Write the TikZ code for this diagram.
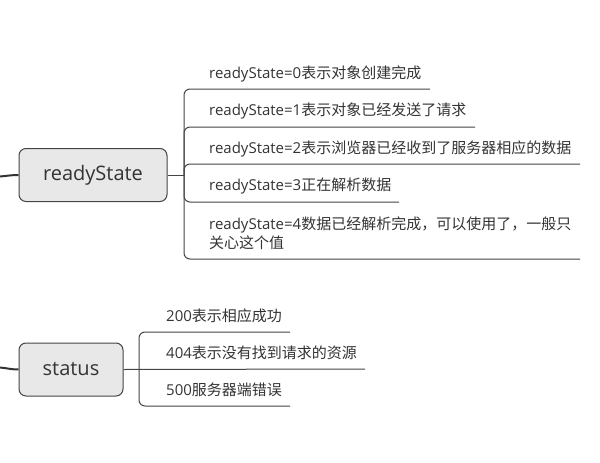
\documentclass[tikz,border=0pt]{standalone}
\usepackage{fontspec}
\setmainfont{Open Sans}
\newfontfamily\cjk{Noto Sans CJK SC}
\usetikzlibrary{positioning}
\definecolor{linegray}{HTML}{444444}
\definecolor{boxfill}{HTML}{E8E8E8}
\definecolor{txtgray}{HTML}{333333}
\tikzset{
  topic/.style={draw=linegray, fill=boxfill, rounded corners=7pt, line width=1pt,
    minimum height=53pt, inner sep=0pt, text=txtgray, font=\fontsize{20}{24}\selectfont},
  leaf/.style={anchor=west, inner sep=0pt, text=txtgray, font=\fontsize{15}{19}\selectfont},
  branch/.style={draw=linegray, line width=1pt, rounded corners=6pt},
  rootedge/.style={draw=txtgray, line width=2pt},
}
\begin{document}
\begin{tikzpicture}[x=1pt, y=-1pt]
  \useasboundingbox (0,0) rectangle (600,463);
  % readyState
  \node[topic, minimum width=148pt] (rs) at (93,175) {readyState};
  \coordinate (rsroot) at (0,176.5);
  \coordinate (rshub) at (184,175);
  \draw[rootedge] (rsroot) to[out=5, in=180] (rs.west);
  \draw[branch] (rs.east) -- (rshub);
  \node[leaf] (rs0) at (209,74) {readyState=0{\cjk 表示对象创建完成}};
  \node[leaf] (rs1) at (209,111) {readyState=1{\cjk 表示对象已经发送了请求}};
  \node[leaf] (rs2) at (209,149) {readyState=2{\cjk 表示浏览器已经收到了服务器相应的数据}};
  \node[leaf] (rs3) at (209,186) {readyState=3{\cjk 正在解析数据}};
  \node[leaf, align=left] (rs4) at (209,233.5)
    {readyState=4{\cjk 数据已经解析完成，可以使用了，一般只}\\{\cjk 关心这个值}};
  \coordinate (rs0end) at (430,89);
  \coordinate (rs1end) at (475,127);
  \coordinate (rs2end) at (580,164);
  \coordinate (rs3end) at (399,202);
  \coordinate (rs4end) at (580,259);
  \foreach \n in {0,...,4} {\draw[branch] (rshub) |- (rs\n end);}
  % status
  \node[topic, minimum width=104pt] (st) at (71,369.5) {status};
  \coordinate (stroot) at (0,367.5);
  \coordinate (sthub) at (139,369);
  \draw[rootedge] (stroot) to[out=-5, in=180] (st.west);
  \node[leaf] (st0) at (166,316) {200{\cjk 表示相应成功}};
  \node[leaf] (st1) at (166,353) {404{\cjk 表示没有找到请求的资源}};
  \node[leaf] (st2) at (166,390) {500{\cjk 服务器端错误}};
  \coordinate (st0end) at (290,332);
  \coordinate (st2end) at (290,406);
  \coordinate (st1end) at (365,369);
  \draw[branch] (st.east) -- (st1end);
  \foreach \n in {0,2} {\draw[branch] (sthub) |- (st\n end);}
\end{tikzpicture}
\end{document}
